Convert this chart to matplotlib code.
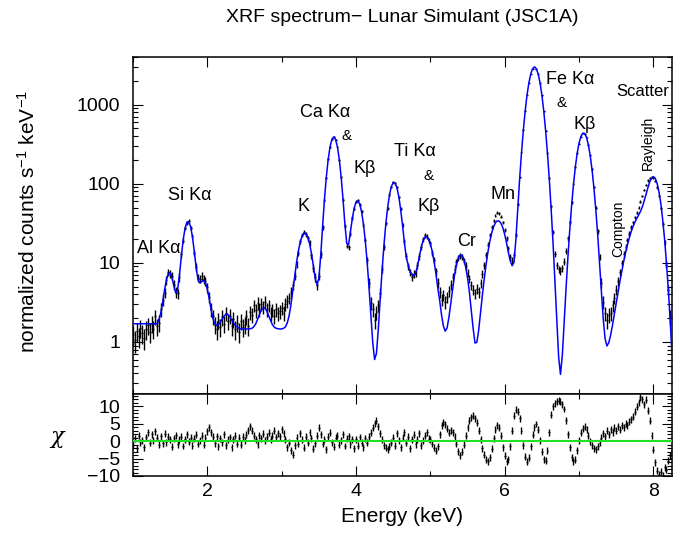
import numpy as np
import matplotlib
matplotlib.use("Agg")
import matplotlib.pyplot as plt
from matplotlib.ticker import (FixedLocator, MultipleLocator, LogLocator,
                               NullFormatter, FuncFormatter)

plt.rcParams["font.family"] = ["Liberation Sans", "DejaVu Sans"]
plt.rcParams["mathtext.default"] = "regular"

# Channel grid (keV): first channel centre and channel width
E_START = 1.0
E_STEP = 0.025
# Effective exposure used for the Poisson error bars (s keV)
EXPOSURE = 10.0

# Best-fit model, normalized counts s^-1 keV^-1, one row per keV
model_rate = [
    1.70, 1.70, 1.70, 1.70, 1.70, 1.70, 1.70, 1.70, 1.70, 1.70,
    1.70, 1.70, 1.70, 1.70, 1.93, 2.35, 3.22, 4.58, 6.15, 7.29,
    7.47, 6.47, 5.08, 4.16, 4.55, 7.04, 12.1, 19.5, 27.3, 32.7,
    33.2, 28.7, 21.2, 13.8, 8.6, 6.1, 5.55, 5.82, 5.97, 5.55,
    # 2 keV
    4.64, 3.55, 2.57, 2.00, 1.71, 1.62, 1.66, 1.78, 1.95, 2.13,
    2.24, 2.23, 2.10, 1.92, 1.74, 1.62, 1.55, 1.49, 1.46, 1.46,
    1.46, 1.46, 1.46, 1.47, 1.49, 1.56, 1.69, 1.92, 2.22, 2.51,
    2.69, 2.67, 2.46, 2.15, 1.87, 1.66, 1.54, 1.49, 1.47, 1.46,
    # 3 keV
    1.46, 1.49, 1.55, 1.74, 2.15, 2.98, 4.47, 6.84, 10.15, 14.2,
    18.4, 21.9, 23.7, 23.5, 21.3, 17.5, 13.2, 9.35, 6.42, 5.3,
    6.4, 12.3, 28.7, 63.0, 120.7, 201.9, 291.5, 363, 391, 363,
    291.5, 201.8, 120.8, 63.8, 30.9, 17.6, 17.0, 24.7, 36.4, 49.3,
    # 4 keV
    58.4, 60.8, 55.3, 44.0, 30.7, 18.8, 10.1, 4.85, 2.2, 0.97,
    0.6, 0.72, 1.47, 3.5, 7.9, 16.5, 30.6, 50.0, 72.5, 92,
    103.3, 102, 89, 69, 47.5, 30, 18.2, 11.9, 9.5, 7.8,
    7.1, 6.85, 7.3, 8.95, 11.8, 15.4, 19.0, 21.1, 21.3, 20.0,
    # 5 keV
    17.4, 13.9, 10.4, 7.3, 4.8, 3.35, 2.2, 1.59, 1.37, 1.51,
    2.07, 3.13, 4.83, 7.0, 9.4, 11.5, 12.6, 12.5, 11.05, 8.8,
    6.45, 4.25, 2.5, 1.49, 0.97, 0.99, 1.42, 2.37, 3.95, 6.35,
    9.6, 13.9, 18.8, 23.9, 28.6, 32.2, 34.0, 33.8, 31.6, 27.7,
    # 6 keV
    22.8, 17.8, 13.4, 10.5, 9.2, 10.2, 19.8, 47.9, 112.5, 242,
    470, 830, 1320, 1890, 2440, 2850, 3000, 2850, 2440, 1890,
    1320, 830, 470, 242, 112, 46.7, 17.7, 6.0, 1.95, 0.65,
    0.39, 0.68, 1.8, 4.8, 11.8, 26.4, 53.8, 98.2, 164, 245,
    # 7 keV
    328, 397, 436, 432, 386, 311, 226, 149, 88, 47,
    23, 10.3, 4.4, 1.95, 1.1, 0.89, 0.98, 1.23, 1.64, 2.26,
    3.13, 4.3, 5.9, 7.9, 10.4, 13.4, 16.8, 20.6, 24.7, 28.7,
    32.6, 36.4, 40.1, 44.5, 50.6, 60.4, 72.8, 88.6, 105, 118,
    # 8 keV
    123, 117, 101, 79, 56, 35, 20, 10.1, 4.7, 1.9, 0.7,
]

# Measured spectrum, normalized counts s^-1 keV^-1
data_rate = [
    1.25, 1.05, 1.38, 1.18, 1.52, 1.30, 1.12, 1.45, 1.62, 1.35,
    1.71, 1.48, 2.10, 1.58, 1.75, 2.6, 3.4, 4.2, 6.0, 7.6,
    7.2, 6.9, 5.3, 4.3, 4.1, 6.6, 12.8, 19.0, 27.8, 32.2,
    33.6, 27.9, 21.8, 13.2, 8.9, 6.5, 6.3, 6.8, 6.2, 5.9,
    # 2 keV
    4.9, 3.7, 2.6, 2.1, 1.65, 1.45, 1.9, 1.55, 2.05, 1.7,
    2.3, 1.85, 2.15, 1.6, 1.95, 1.45, 1.75, 1.35, 1.85, 1.55,
    1.65, 2.1, 1.6, 2.4, 2.2, 2.9, 2.5, 3.1, 2.6, 3.0,
    2.75, 3.2, 2.6, 2.9, 2.3, 2.55, 2.15, 2.6, 2.3, 2.45,
    # 3 keV
    2.7, 2.35, 3.0, 3.3, 3.6, 4.3, 5.2, 6.9, 9.6, 13.5,
    18.9, 22.6, 24.5, 23.0, 20.6, 17.9, 12.4, 8.7, 6.6, 5.2,
    6.9, 12.8, 28.0, 62, 119, 204, 290, 365, 390, 360,
    293, 200, 122, 63, 29.5, 16.5, 15.8, 23.5, 37.2, 48.5,
    # 4 keV
    59.5, 61.5, 54.2, 44.8, 30.0, 19.5, 10.8, 5.6, 3.1, 2.6,
    1.9, 2.4, 2.9, 4.2, 8.4, 16.0, 31.5, 49, 73, 91,
    104, 101, 90, 68, 48.5, 30.5, 18.8, 12.3, 9.0, 7.6,
    6.7, 7.2, 7.5, 9.3, 12.1, 16.0, 19.8, 22.4, 21.5, 19.4,
    # 5 keV
    17.6, 13.2, 10.9, 7.8, 5.6, 4.3, 3.4, 3.9, 3.2, 3.7,
    4.4, 5.3, 6.7, 8.4, 10.2, 11.6, 12.3, 11.8, 10.6, 9.2,
    7.5, 6.3, 5.2, 4.6, 4.1, 4.7, 4.3, 5.5, 7.2, 9.4,
    12.7, 17.0, 22.5, 28.4, 34.3, 39.5, 43.0, 42.2, 38.5, 32.5,
    # 6 keV
    26.0, 20.4, 15.2, 12.0, 10.8, 12.5, 22.5, 55, 120, 250,
    480, 835, 1320, 1880, 2420, 2830, 2980, 2840, 2430, 1880,
    1310, 825, 470, 245, 118, 52, 24.5, 13.0, 9.4, 8.3,
    8.0, 8.6, 10.4, 14.2, 20.5, 33, 58, 100, 162, 242,
    # 7 keV
    322, 392, 432, 428, 385, 312, 228, 152, 91, 50,
    25, 11.8, 5.6, 3.2, 2.3, 1.9, 2.2, 2.3, 2.9, 3.6,
    4.6, 5.9, 7.6, 10.0, 12.8, 16.0, 19.5, 23.5, 28, 32.5,
    37.5, 43, 50, 59, 70, 83, 97, 110, 119, 122,
    # 8 keV
    118, 108, 90, 70, 49, 31, 18, 9.5, 4.6, 2.1, 1.0,
]

# Fit residuals, (data - model) / error
chi_resid = [
    -1.2, 0.8, -2.0, 1.5, -0.5, 0.3, -1.8, 1.1, 2.6, -0.4,
    1.9, 0.2, 2.8, 0.9, -1.1, 1.4, -0.6, 2.1, -0.3, 1.2,
    0.5, -1.6, 0.8, 1.7, -0.9, 0.4, 1.3, -1.4, 0.6, 2.0,
    -0.2, 1.0, -1.3, 0.7, 1.8, -0.8, 0.3, 1.5, -1.0, 0.9,
    # 2 keV
    2.8, 3.9, 2.5, 1.2, -0.6, 1.4, -1.5, 0.8, -0.3, 1.9,
    -1.2, 0.4, 1.1, -1.7, 0.6, 1.6, -0.8, 0.9, -1.0, 1.3,
    0.2, 1.8, 3.1, 4.2, 3.0, 1.5, 0.6, -0.9, 1.7, 0.8,
    2.1, 0.3, 1.2, 2.4, 0.5, 1.6, 2.9, 1.1, 2.3, 1.4,
    # 3 keV
    3.4, 2.2, 0.5, -1.8, -0.4, -2.6, -3.9, -1.2, 1.0, -0.8,
    2.3, 0.4, -1.9, 1.2, -0.5, 2.6, 0.8, -2.2, -0.6, 1.5,
    3.8, 1.9, -0.7, 0.6, -2.4, 1.3, 2.4, -0.3, -1.6, 0.9,
    1.6, -1.1, 0.3, 2.0, -1.4, 0.7, 1.4, -0.9, 0.5, -2.0,
    # 4 keV
    0.6, -1.3, 1.1, -0.4, -1.8, 0.8, -0.5, 1.2, 2.4, 3.8,
    5.1, 5.8, 4.3, 2.2, 0.4, -1.2, -1.9, -2.3, -1.6, -0.4,
    1.0, -1.3, 2.2, 0.2, -1.7, 0.9, 2.6, -0.5, 1.3, -2.1,
    0.6, 1.8, -0.9, 0.4, 2.3, -1.2, 0.1, 1.6, 2.5, 0.7,
    # 5 keV
    0.5, -0.8, -1.9, -2.8, -1.5, 2.0, 4.6, 5.4, 4.8, 3.6,
    2.4, 3.1, 2.6, 1.2, -0.8, -2.9, -4.0, -3.1, -1.0, 1.6,
    3.9, 5.8, 6.9, 7.3, 6.6, 5.2, 3.0, 0.6, -2.0, -3.9,
    -5.3, -5.8, -4.6, -2.2, 0.8, 3.2, 4.5, 3.8, 1.5, -1.8,
    # 6 keV
    -4.2, -5.8, -5.2, -1.5, 3.0, 7.2, 9.0, 8.4, 6.5, 3.0,
    -1.2, -4.5, -5.9, -4.8, -1.5, 1.8, 4.0, 4.9, 3.2, 0.2,
    -3.0, -5.2, -5.6, -2.8, 2.5, 7.5, 10.0, 10.9, 11.4, 11.6,
    11.3, 10.6, 9.2, 6.0, 2.0, -1.8, -4.6, -5.8, -5.4, -2.6,
    # 7 keV
    0.2, 2.4, 3.6, 4.1, 3.2, 1.5, 0.0, -1.2, -2.1, -2.4,
    -1.5, -0.4, 1.0, 2.2, 1.4, 3.0, 2.0, 3.4, 2.5, 3.8,
    2.9, 4.2, 3.3, 4.6, 4.0, 5.0, 4.5, 5.6, 6.3, 7.0,
    8.4, 9.8, 11.2, 12.6, 12.0, 10.6, 11.8, 8.7, 5.8, 1.5,
    # 8 keV
    -2.5, -6.0, -8.5, -9.6, -8.8, -9.9, -7.5, -8.2, -5.6, -4.0, -2.8,
]

# Line identifications: (text, energy, rate, font size)
labels = [
    ("Al K\u03b1", 1.34, 15, 13),
    ("Si K\u03b1", 1.77, 72, 13),
    ("K", 3.29, 51, 13),
    ("Ca K\u03b1", 3.58, 800, 13),
    ("&", 3.87, 400, 11),
    ("K\u03b2", 4.11, 155, 13),
    ("Ti K\u03b1", 4.79, 255, 13),
    ("&", 4.97, 124, 11),
    ("K\u03b2", 4.98, 51, 13),
    ("Cr", 5.49, 18.7, 13),
    ("Mn", 5.98, 73, 13),
    ("Fe K\u03b1", 6.88, 2070, 13),
    ("&", 6.76, 1040, 11),
    ("K\u03b2", 7.07, 560, 13),
    ("Scatter", 7.86, 1470, 12),
]
rotated_labels = [
    ("Rayleigh", 7.93, 327, 10),
    ("Compton", 7.53, 27, 10),
]

energy = E_START + E_STEP * np.arange(len(model_rate))
data = np.asarray(data_rate)
model = np.asarray(model_rate)
resid = np.asarray(chi_resid)
data_err = np.sqrt(data / EXPOSURE)

W, H = 673, 533
fig = plt.figure(figsize=(W / 100, H / 100), dpi=100)
left, right = 133, 672
ax = fig.add_axes([left / W, 1 - 394 / H, (right - left) / W, (394 - 57) / H])
axr = fig.add_axes([left / W, 1 - 476 / H, (right - left) / W, (476 - 394) / H],
                   sharex=ax)

# spectrum panel
ax.errorbar(energy, data, yerr=data_err, xerr=E_STEP / 2, fmt="none",
            ecolor="black", elinewidth=1.0, capsize=0, zorder=2)
ax.plot(energy, model, color="#0000ff", lw=1.1, zorder=3)
ax.set_yscale("log")
ax.set_xlim(1.0, 8.25)
ax.set_ylim(0.22, 4000)
ax.yaxis.set_major_locator(FixedLocator([1, 10, 100, 1000]))
ax.yaxis.set_major_formatter(FuncFormatter(lambda v, p: f"{v:g}"))
ax.yaxis.set_minor_locator(LogLocator(base=10, subs=np.arange(2, 10)))
ax.yaxis.set_minor_formatter(NullFormatter())
ax.tick_params(labelbottom=False)

for text, e, r, fs in labels:
    ax.text(e, r, text, ha="center", va="center", fontsize=fs)
for text, e, r, fs in rotated_labels:
    ax.text(e, r, text, ha="center", va="center", fontsize=fs, rotation=90)

# residual panel
axr.errorbar(energy, resid, yerr=1.0, xerr=E_STEP / 2, fmt="none",
             ecolor="black", elinewidth=1.0, capsize=0, zorder=2)
axr.axhline(0, color="#22e022", lw=1.5, zorder=3)
axr.set_ylim(-10.0, 13.5)
axr.yaxis.set_major_locator(MultipleLocator(5))
axr.yaxis.set_minor_locator(MultipleLocator(1))
axr.xaxis.set_major_locator(MultipleLocator(2))
axr.xaxis.set_minor_locator(MultipleLocator(1))

for a in (ax, axr):
    a.tick_params(which="both", direction="in", top=True, right=True,
                  labelsize=14, width=0.8, colors="black")
    a.tick_params(which="major", length=7)
    a.tick_params(which="minor", length=3.5)
    a.tick_params(axis="y", pad=9)
    a.tick_params(axis="x", pad=5)
    for s in a.spines.values():
        s.set_linewidth(1.1)

fig.text(402 / W, 1 - 17 / H, "XRF spectrum\u2212 Lunar Simulant (JSC1A)",
         ha="center", va="center", fontsize=14)
fig.text(28 / W, 1 - 222 / H, "normalized counts s$^{-1}$ keV$^{-1}$",
         ha="center", va="center", rotation=90, fontsize=15)
fig.text(57 / W, 1 - 437 / H, "\u03c7", ha="center", va="center",
         fontsize=16, family=["DejaVu Serif", "DejaVu Sans"], style="italic")
fig.text(402 / W, 1 - 517 / H, "Energy (keV)", ha="center", va="center",
         fontsize=15)

fig.savefig("out.png", dpi=100)
